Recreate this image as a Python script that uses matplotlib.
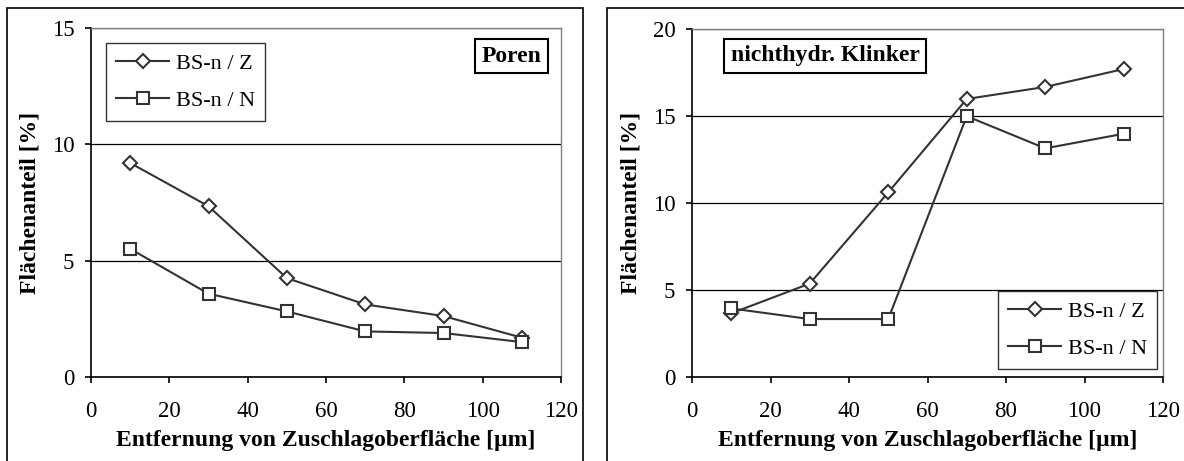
import matplotlib
matplotlib.use("Agg")
import matplotlib.pyplot as plt
from matplotlib.patches import Rectangle

plt.rcParams["font.family"] = ["Liberation Serif", "DejaVu Serif"]

distance = [10, 30, 50, 70, 90, 110]
x_ticks = [0, 20, 40, 60, 80, 100, 120]

poren_z = [9.20, 7.34, 4.25, 3.12, 2.62, 1.69]
poren_n = [5.51, 3.58, 2.82, 1.96, 1.89, 1.50]

klinker_z = [3.66, 5.37, 10.61, 15.98, 16.67, 17.70]
klinker_n = [3.94, 3.33, 3.33, 14.99, 13.14, 13.98]

series_labels = ["BS-n / Z", "BS-n / N"]
x_label = "Entfernung von Zuschlagoberfläche [µm]"
y_label = "Flächenanteil [%]"

W, H = 1184, 461
LINE = "#333333"


def fx(px):
    return px / W


def fy(py):
    return 1 - py / H


def draw_panel(ax, z_vals, n_vals, ymax, box_text, box_xy, legend_anchor, legend_loc):
    ax.plot(distance, z_vals, color=LINE, lw=1.5, marker="D", ms=7.5,
            mfc="white", mec=LINE, mew=1.5, label=series_labels[0])
    ax.plot(distance, n_vals, color=LINE, lw=1.5, marker="s", ms=9,
            mfc="white", mec=LINE, mew=1.5, label=series_labels[1])

    ax.set_xlim(0, 120)
    ax.set_ylim(0, ymax)
    ax.set_xticks(x_ticks)
    ax.set_yticks(range(0, ymax + 1, 5))
    ax.set_axisbelow(True)
    ax.yaxis.grid(True, color="black", lw=0.9)

    for side in ("top", "right"):
        ax.spines[side].set_color("#808080")
        ax.spines[side].set_linewidth(1.0)
    for side in ("left", "bottom"):
        ax.spines[side].set_color("black")
        ax.spines[side].set_linewidth(1.2)

    ax.tick_params(direction="out", length=4, width=1.2, labelsize=16.5,
                   colors="black")
    ax.tick_params(axis="x", pad=13)
    ax.tick_params(axis="y", pad=8)
    ax.set_xlabel(x_label, fontsize=17, fontweight="bold", labelpad=6)
    ax.set_ylabel(y_label, fontsize=17, fontweight="bold", labelpad=8)

    leg = ax.legend(loc=legend_loc, bbox_to_anchor=legend_anchor,
                    bbox_transform=ax.figure.transFigure, fontsize=16,
                    frameon=True, fancybox=False, borderaxespad=0,
                    handlelength=2.4, handletextpad=0.3, borderpad=0.45,
                    labelspacing=0.75)
    leg.get_frame().set_edgecolor("black")
    leg.get_frame().set_linewidth(1.0)

    ax.text(box_xy[0], box_xy[1], box_text, transform=ax.figure.transFigure,
            ha="center", va="center", fontsize=17, fontweight="bold",
            bbox=dict(boxstyle="square,pad=0.28", fc="white", ec="black", lw=1.5))


fig = plt.figure(figsize=(W / 100, H / 100), dpi=100)

# outer frames around each chart
fig.patches.append(Rectangle((fx(7), fy(470)), fx(576), fy(8) - fy(470),
                             transform=fig.transFigure, fill=False,
                             ec="black", lw=1.2))
fig.patches.append(Rectangle((fx(607), fy(470)), fx(590), fy(8) - fy(470),
                             transform=fig.transFigure, fill=False,
                             ec="black", lw=1.2))

ax1 = fig.add_axes([fx(91), fy(377), fx(470), fy(28) - fy(377)])
ax2 = fig.add_axes([fx(692), fy(377), fx(471), fy(29) - fy(377)])

draw_panel(ax1, poren_z, poren_n, 15, "Poren", (fx(511.5), fy(56)),
           (fx(106), fy(43)), "upper left")
draw_panel(ax2, klinker_z, klinker_n, 20, "nichthydr. Klinker", (fx(825), fy(56)),
           (fx(1157), fy(369)), "lower right")

fig.savefig("out.png", dpi=100)
